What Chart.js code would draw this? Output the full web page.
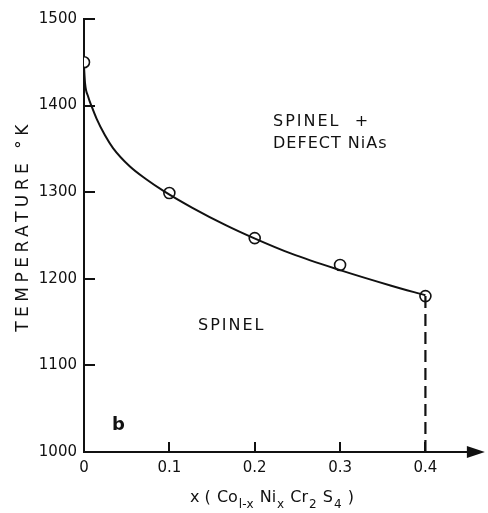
<!DOCTYPE html>
<html>
<head>
<meta charset="utf-8">
<script src="https://cdn.jsdelivr.net/npm/chart.js@4.4.0/dist/chart.umd.min.js"></script>
<style>
  html, body { margin: 0; padding: 0; background: #fff; }
  #wrap { width: 488px; height: 513px; }
</style>
</head>
<body>
<div id="wrap"><canvas id="chart" width="488" height="513"></canvas></div>
<script>
// tick values
const xTicks = [0, 0.1, 0.2, 0.3, 0.4];
const yTicks = [1000, 1100, 1200, 1300, 1400, 1500];

// measured points (open circles)
const measuredX = [0, 0.1, 0.2, 0.3, 0.4];
const measuredT = [1450, 1299, 1247, 1216, 1180];

// solvus curve
const curveX = [0, 0.0012, 0.005, 0.009, 0.0147, 0.0244, 0.034, 0.0535, 0.0729, 0.094, 0.127, 0.166, 0.199, 0.243, 0.30, 0.36, 0.40];
const curveT = [1445, 1426, 1410, 1399, 1385, 1366, 1351, 1330, 1315, 1301, 1282, 1262, 1247, 1229, 1210, 1192, 1181];

// dashed phase boundary at x = 0.4
const boundaryX = [0.4, 0.4];
const boundaryT = [1180, 1000];

const INK = '#111';
const FONT = '"DejaVu Sans", sans-serif';

const toPts = (xs, ys) => xs.map((x, i) => ({ x: x, y: ys[i] }));

// inside ticks, arrow head and the hand-lettered labels
const decorations = {
  id: 'decorations',
  afterDraw(chart) {
    const { ctx, chartArea: a, scales: { x, y } } = chart;
    ctx.save();
    ctx.strokeStyle = INK;
    ctx.fillStyle = INK;
    ctx.lineWidth = 2;

    // ticks pointing into the plot
    yTicks.forEach(v => {
      const py = Math.round(y.getPixelForValue(v));
      ctx.beginPath();
      ctx.moveTo(a.left, py);
      ctx.lineTo(a.left + 11, py);
      ctx.stroke();
    });
    xTicks.forEach(v => {
      const px = Math.round(x.getPixelForValue(v));
      ctx.beginPath();
      ctx.moveTo(px, a.bottom);
      ctx.lineTo(px, a.bottom - 10);
      ctx.stroke();
    });

    // arrow at the end of the x axis
    const by = Math.round(a.bottom);
    ctx.beginPath();
    ctx.moveTo(a.right - 14, by - 6);
    ctx.lineTo(a.right + 4, by);
    ctx.lineTo(a.right - 14, by + 6);
    ctx.closePath();
    ctx.fill();

    // region labels
    ctx.font = '16px ' + FONT;
    ctx.textBaseline = 'middle';
    ctx.textAlign = 'left';
    ctx.letterSpacing = '2px';
    ctx.fillText('SPINEL  +', 273, 122);
    ctx.fillText('SPINEL', 198, 326);
    ctx.letterSpacing = '1px';
    ctx.fillText('DEFECT NiAs', 273, 144);

    ctx.letterSpacing = '0px';
    ctx.font = 'bold 18px ' + FONT;
    ctx.fillText('b', 112, 425);

    // y axis title
    ctx.save();
    ctx.translate(24, 226);
    ctx.rotate(-Math.PI / 2);
    ctx.textAlign = 'center';
    ctx.font = '17px ' + FONT;
    ctx.letterSpacing = '4.5px';
    ctx.fillText('TEMPERATURE °K', 0, 0);
    ctx.restore();

    // x axis title with subscripts
    const parts = [
      ['x ( ', 0], ['Co', 0], ['l-x', 1], [' Ni', 0], ['x', 1],
      [' Cr', 0], ['2', 1], [' S', 0], ['4', 1], [' )', 0]
    ];
    let cx = 190;
    ctx.textAlign = 'left';
    ctx.letterSpacing = '0px';
    parts.forEach(([t, sub]) => {
      ctx.font = (sub ? '12px ' : '16px ') + FONT;
      ctx.fillText(t, cx, sub ? 505 : 498);
      cx += ctx.measureText(t).width + 1;
    });

    ctx.restore();
  }
};

new Chart(document.getElementById('chart'), {
  type: 'scatter',
  data: {
    datasets: [
      {
        label: 'curve',
        data: toPts(curveX, curveT),
        showLine: true,
        borderColor: INK,
        borderWidth: 2,
        pointRadius: 0,
        cubicInterpolationMode: 'monotone'
      },
      {
        label: 'boundary',
        data: toPts(boundaryX, boundaryT),
        showLine: true,
        borderColor: INK,
        borderWidth: 2.2,
        borderDash: [12, 6],
        pointRadius: 0
      },
      {
        label: 'measured',
        data: toPts(measuredX, measuredT),
        showLine: false,
        pointRadius: 5.5,
        pointBackgroundColor: '#fff',
        pointBorderColor: INK,
        pointBorderWidth: 1.6
      }
    ]
  },
  options: {
    responsive: false,
    animation: false,
    layout: { padding: { top: 19, right: 4, left: 0, bottom: 0 } },
    plugins: {
      legend: { display: false },
      tooltip: { enabled: false }
    },
    scales: {
      x: {
        type: 'linear',
        min: 0,
        max: 0.465,
        afterBuildTicks: s => { s.ticks = xTicks.map(v => ({ value: v })); },
        afterFit: s => { s.height = 61; },
        grid: { display: false, drawTicks: false },
        border: { display: true, color: INK, width: 2 },
        ticks: {
          color: INK,
          padding: 7,
          font: { family: FONT, size: 15 },
          callback: v => (v === 0 ? '0' : v.toFixed(1))
        }
      },
      y: {
        type: 'linear',
        min: 1000,
        max: 1500,
        afterBuildTicks: s => { s.ticks = yTicks.map(v => ({ value: v })); },
        afterFit: s => { s.width = 84; },
        grid: { display: false, drawTicks: false },
        border: { display: true, color: INK, width: 2 },
        ticks: {
          color: INK,
          padding: 7,
          font: { family: FONT, size: 15 },
          callback: v => String(v)
        }
      }
    }
  },
  plugins: [decorations]
});
</script>
</body>
</html>
